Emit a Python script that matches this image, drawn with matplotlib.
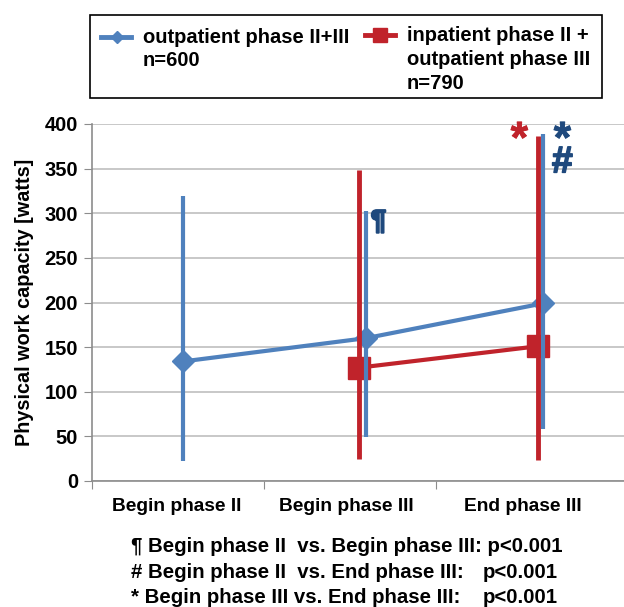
import matplotlib.pyplot as plt
import matplotlib.patheffects as pe
from matplotlib.lines import Line2D
from matplotlib.patches import Rectangle
import numpy as np

plt.rcParams['font.family'] = ['Liberation Sans', 'DejaVu Sans']
plt.rcParams['font.weight'] = 'bold'

# data
categories = ['Begin phase II', 'Begin phase III', 'End phase III']

out_idx = [0, 1, 2]
out_mean = [134, 160, 199]
out_low = [22, 49, 58]
out_high = [319, 303, 389]

in_idx = [1, 2]
in_mean = [127, 151]
in_low = [25, 23]
in_high = [348, 387]

out_label = ['outpatient phase II+III', 'n=600']
in_label = ['inpatient phase II +', 'outpatient phase III', 'n=790']

footnotes = ['\u00b6 Begin phase II  vs. Begin phase III: p<0.001',
             '# Begin phase II  vs. End phase III:',
             '* Begin phase III vs. End phase III:']

# styling / layout
BLUE = '#4F81BD'
RED = '#C0232B'
NAVY = '#1F497D'
GRID = '#BFBFBF'
AXC = '#8C8C8C'
out_shift = [0.03, 0.09, 0.12]   # the series sit a bit right of the category centres
in_shift = [0.05, 0.09]

W, H = 624, 607
fig = plt.figure(figsize=(W / 100, H / 100), dpi=100)
ax = fig.add_axes([92 / W, (H - 481) / H, (W - 92) / W, 357 / H])

ox = np.array(out_idx) + np.array(out_shift)
ix = np.array(in_idx) + np.array(in_shift)

ax.plot(ox, out_mean, color=BLUE, lw=3, marker='D', ms=11.5, zorder=3)
ax.plot(ix, in_mean, color=RED, lw=3, marker='s', ms=16, zorder=3)

om = np.array(out_mean)
im = np.array(in_mean)
ax.errorbar(ox, om, yerr=[om - np.array(out_low), np.array(out_high) - om],
            fmt='none', ecolor=BLUE, elinewidth=3, capsize=0, zorder=4)
ax.errorbar(ix, im, yerr=[im - np.array(in_low), np.array(in_high) - im],
            fmt='none', ecolor=RED, elinewidth=3.5, capsize=0, zorder=5)

ax.set_ylim(0, 400)
ax.set_xlim(-0.5, 2.59)
ax.set_yticks(range(0, 401, 50))
ax.yaxis.grid(True, color=GRID, lw=1.2)
ax.set_axisbelow(True)
ax.set_xticks([-0.5, 0.5, 1.5])
ax.set_xticklabels([])
ax.set_xticks([-0.01, 0.98, 2.0], minor=True)
ax.set_xticklabels(categories, minor=True, fontsize=13.8, fontweight='bold')
ax.tick_params(axis='x', which='minor', length=0, pad=12)
ax.tick_params(axis='x', which='major', length=6, color=AXC)
ax.tick_params(axis='y', length=6, color=AXC, labelsize=14.5, pad=4)
for t in ax.get_yticklabels():
    t.set_fontweight('bold')
for s in ['top', 'right']:
    ax.spines[s].set_visible(False)
for s in ['left', 'bottom']:
    ax.spines[s].set_color(AXC)
    ax.spines[s].set_linewidth(1.2)
ax.set_ylabel('Physical work capacity [watts]', fontsize=14.3, fontweight='bold', labelpad=7.5)

# significance marks (stroked a little so they look as heavy as the original)
def mark(x, y, s, color, size, stroke):
    ax.text(x, y, s, color=color, fontsize=size, fontweight='bold', ha='center', va='center',
            path_effects=[pe.withStroke(linewidth=stroke, foreground=color)])

mark(1.164, 290, '\u00b6', NAVY, 20, 1.4)
mark(1.982, 381, '*', RED, 32, 0.6)
mark(2.232, 381, '*', NAVY, 32, 0.6)
mark(2.232, 357, '#', NAVY, 27, 1.1)

# legend box, drawn by hand so the markers sit on the first text line
fig.add_artist(Rectangle((90 / W, 1 - 98 / H), 512 / W, 83 / H, transform=fig.transFigure,
                         fill=False, edgecolor='black', lw=1.2))
fig.add_artist(Line2D([101 / W, 117 / W, 131 / W], [1 - 37 / H] * 3, color=BLUE, lw=3.5,
                      marker='D', ms=6.5, markevery=[1], transform=fig.transFigure))
fig.add_artist(Line2D([365 / W, 380 / W, 395 / W], [1 - 35 / H] * 3, color=RED, lw=3.5,
                      marker='s', ms=9.5, markevery=[1], transform=fig.transFigure))
for k, line in enumerate(out_label):
    fig.text(143 / W, 1 - (43 + 23 * k) / H, line, fontsize=14.5, fontweight='bold',
             va='baseline')
for k, line in enumerate(in_label):
    fig.text(407 / W, 1 - (41 + 24 * k) / H, line, fontsize=14.5, fontweight='bold',
             va='baseline')

# footnotes
for k, line in enumerate(footnotes):
    fig.text(131 / W, 1 - (552 + 25.5 * k) / H, line, fontsize=14.7, fontweight='bold',
             va='baseline')
    if k > 0:
        fig.text(483 / W, 1 - (552 + 25.5 * k) / H, 'p<0.001', fontsize=14.7,
                 fontweight='bold', va='baseline')

fig.savefig('out.png', dpi=100)
